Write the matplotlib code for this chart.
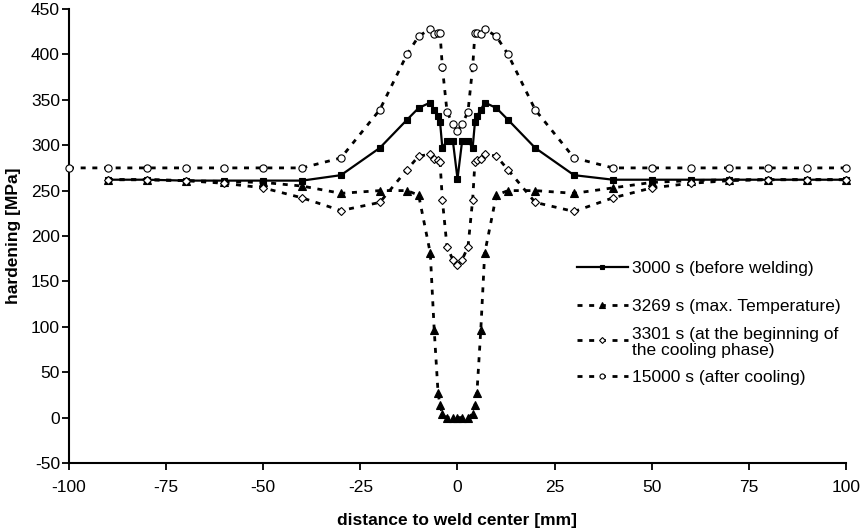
#!/usr/bin/env python3
"""
Hardening profile across the weld seam for four time steps
(before welding, max. temperature, start of cooling, after cooling).
"""

import matplotlib
matplotlib.use("Agg")
import matplotlib.pyplot as plt

# evaluation nodes [mm] (same for all time steps)
pos_mm = [-90, -80, -70, -60, -50, -40, -30, -20, -13, -10,
          -7, -6, -5, -4.5, -3.9, -2.7, -1.2,
          0,
          1.2, 2.7, 3.9, 4.5, 5, 6, 7,
          10, 13, 20, 30, 40, 50, 60, 70, 80, 90, 100]
# the 15000 s result has one extra node at the left border
pos_mm_15000 = [-100] + pos_mm

# hardening [MPa]
hard_3000 = [262, 262, 261, 261, 261, 261, 267, 297, 328, 341,
             347, 339, 332, 326, 297, 305, 305,
             263,
             305, 305, 297, 326, 332, 339, 347,
             341, 328, 297, 267, 262, 262, 262, 262, 262, 262, 262]
hard_3269 = [262, 262, 261, 260, 259, 255, 247, 250, 250, 245,
             181, 97, 27, 14, 4, 0, 0,
             0,
             0, 0, 4, 14, 27, 97, 181,
             245, 250, 250, 247, 253, 259, 261, 262, 262, 262, 262]
hard_3301 = [262, 262, 261, 258, 253, 242, 228, 237, 273, 288,
             290, 285, 284, 282, 240, 188, 174,
             168,
             174, 188, 240, 282, 284, 285, 290,
             288, 273, 237, 227, 242, 253, 258, 261, 262, 262, 262]
hard_15000 = [275, 275, 275, 275, 275, 275, 275, 286, 339, 400, 420,
              428, 423, 424, 424, 386, 337, 323,
              316,
              323, 337, 386, 424, 424, 423, 428,
              420, 400, 339, 286, 275, 275, 275, 275, 275, 275, 275]

labels = [
    "3000 s (before welding)",
    "3269 s (max. Temperature)",
    "3301 s (at the beginning of\nthe cooling phase)",
    "15000 s (after cooling)",
]

x_ticks = [-100, -75, -50, -25, 0, 25, 50, 75, 100]
y_ticks = [-50, 0, 50, 100, 150, 200, 250, 300, 350, 400, 450]

FONT = "Liberation Sans"
DASH = (0, (1.8, 2.4))


def style_for(i):
    """Line/marker style of series i (Excel-like)."""
    base = dict(color="black", mec="black", mew=0.8)
    if i == 0:
        return dict(base, ls="-", lw=1.6, marker="s", ms=4.8, mfc="black")
    if i == 1:
        return dict(base, ls=DASH, lw=2.0, marker="^", ms=5.8, mfc="black")
    if i == 2:
        return dict(base, ls=DASH, lw=2.0, marker="D", ms=4.3, mfc="white")
    return dict(base, ls=DASH, lw=2.0, marker="o", ms=5.2, mfc="white")


def draw_legend(ax):
    # rows as in the original (no frame), positions in axes fraction
    rows_y = [0.4324, 0.348, 0.2709, 0.1916]
    x0, x1, xt = 0.654, 0.719, 0.7246
    for i, (label, y) in enumerate(zip(labels, rows_y)):
        st = style_for(i)
        st["ms"] = st["ms"] * 0.7
        ax.plot([x0, 0.5 * (x0 + x1), x1], [y, y, y], transform=ax.transAxes,
                markevery=[1], clip_on=False, **st)
        ax.text(xt, y, label, transform=ax.transAxes, ha="left",
                va="center_baseline", fontsize=12.5, family=FONT,
                linespacing=1.1)


def main():
    plt.rcParams["font.family"] = [FONT, "DejaVu Sans"]
    plt.rcParams["axes.unicode_minus"] = False
    fig = plt.figure(figsize=(8.62, 5.32), dpi=100)
    ax = fig.add_axes([69 / 862, 69 / 532, 777 / 862, 454 / 532])

    data = [(pos_mm, hard_3000), (pos_mm, hard_3269),
            (pos_mm, hard_3301), (pos_mm_15000, hard_15000)]
    for i, (x, y) in enumerate(data):
        ax.plot(x, y, clip_on=False, zorder=3 + i, **style_for(i))

    ax.set_xlim(-100, 100)
    ax.set_ylim(-50, 450)
    ax.set_xticks(x_ticks)
    ax.set_yticks(y_ticks)
    ax.tick_params(direction="out", length=5, width=1.3, labelsize=12.5,
                   colors="black")
    ax.tick_params(axis="x", pad=7.5)
    ax.tick_params(axis="y", pad=1.5)
    for side in ("top", "right"):
        ax.spines[side].set_visible(False)
    for side in ("left", "bottom"):
        ax.spines[side].set_linewidth(1.5)

    ax.set_xlabel("distance to weld center [mm]", fontsize=12.5,
                  fontweight="bold")
    ax.set_ylabel("hardening [MPa]", fontsize=12.5, fontweight="bold")
    ax.xaxis.set_label_coords(0.5, -0.11)
    ax.yaxis.set_label_coords(-0.062, 0.5)

    draw_legend(ax)

    fig.savefig("out.png", dpi=100)
    plt.close(fig)


if __name__ == "__main__":
    main()
